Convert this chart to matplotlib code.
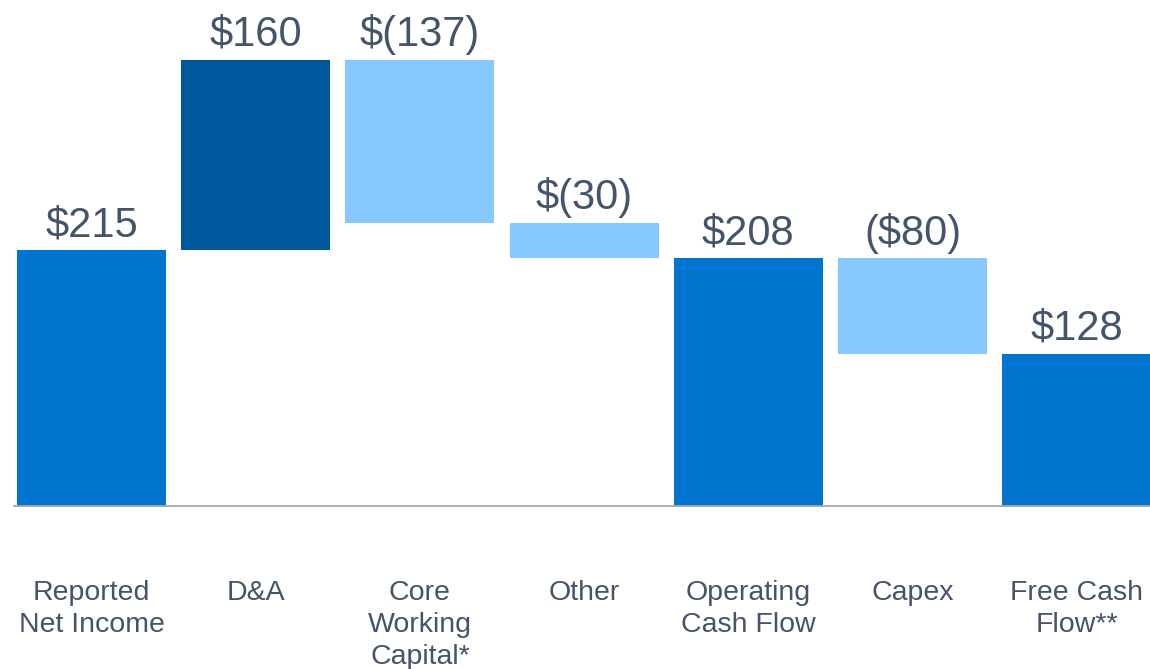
import matplotlib
matplotlib.use("Agg")
import matplotlib.pyplot as plt

categories = ['Reported\nNet Income', 'D&A', 'Core\nWorking\nCapital*', 'Other',
              'Operating\nCash Flow', 'Capex', 'Free Cash\nFlow**']
values = [215, 160, -137, -30, 208, -80, 128]
is_total = [True, False, False, False, True, False, True]
value_labels = ['$215', '$160', '$(137)', '$(30)', '$208', '($80)', '$128']

BLUE = '#0075CF'
DARK = '#00589C'
LIGHT = '#87C9FF'
TEXT = '#44546A'

plt.rcParams['font.family'] = ['Liberation Sans', 'DejaVu Sans']

fig = plt.figure(figsize=(11.5, 6.69), dpi=100)
ax = fig.add_axes([0, 0, 1, 1])

running = 0
for i, (v, tot) in enumerate(zip(values, is_total)):
    if tot:
        bottom, height, color = 0, v, BLUE
        running = v
    else:
        bottom, height = running, v
        color = DARK if v > 0 else LIGHT
        running += v
    ax.bar(i, height, bottom=bottom, width=0.907, color=color, zorder=2)
    top = max(bottom, bottom + height)
    ax.annotate(value_labels[i], (i, top), xytext=(0, 10), textcoords='offset points',
                ha='center', va='baseline', fontsize=30, color=TEXT)
    ax.annotate(categories[i], (i, 0), xytext=(0, -53), textcoords='offset points',
                ha='center', va='top', fontsize=20.5, color=TEXT, linespacing=1.3)

ax.set_xlim(-0.557, 6.446)
ax.set_ylim(-137, 425.2)
ax.axhline(0, xmin=14 / 1150, xmax=1, color='#A6A6A6', linewidth=1.3, zorder=3)
ax.axis('off')

fig.savefig('out.png', dpi=100)
